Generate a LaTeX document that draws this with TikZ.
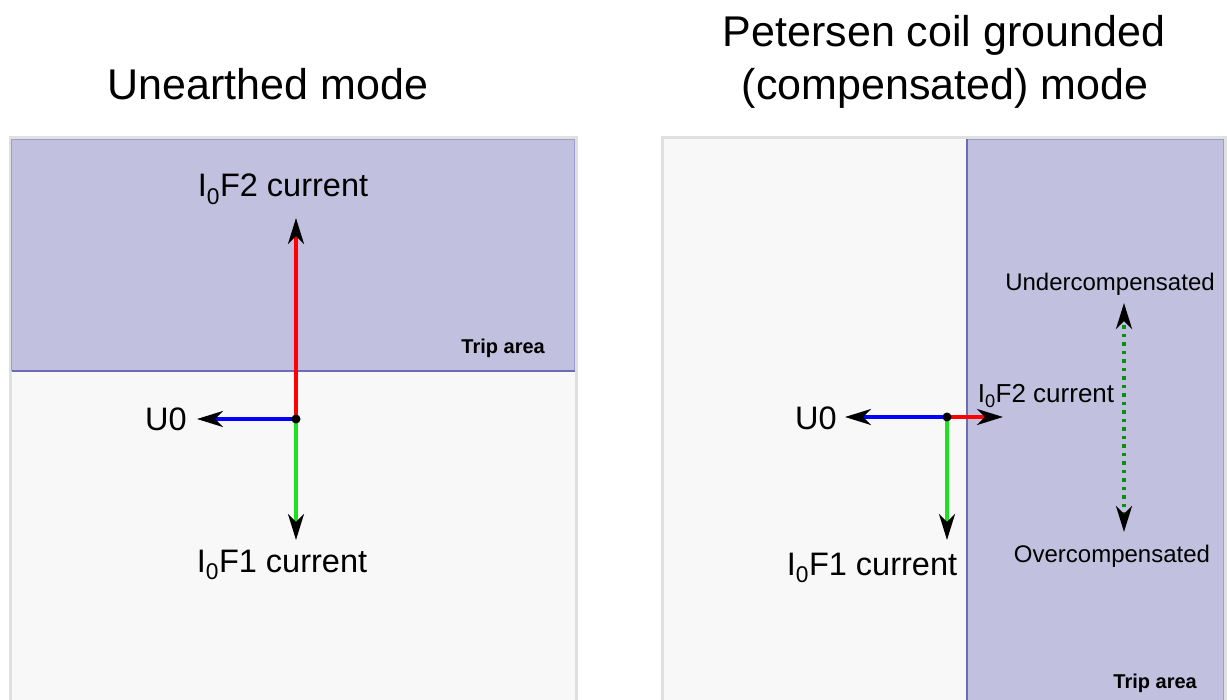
\documentclass[tikz,border=0pt]{standalone}
\usepackage{fontspec}
\setmainfont{Liberation Sans}
\usetikzlibrary{arrows.meta}
\definecolor{tripfill}{HTML}{C1C1DF}
\definecolor{tripedge}{HTML}{9C9CD0}
\definecolor{tripline}{HTML}{6C6CB6}
\definecolor{panelfill}{HTML}{F8F8F8}
\definecolor{panelline}{HTML}{E0E0E0}
\definecolor{vred}{HTML}{FF0000}
\definecolor{vblue}{HTML}{0000FF}
\definecolor{vgreen}{HTML}{1EE01E}
\definecolor{dgreen}{HTML}{0B8F0B}

\begin{document}
\begin{tikzpicture}[x=1pt,y=-1pt,
  vtip/.tip={Stealth[length=26pt,width=16pt,inset=8pt,color=black]},
  vec/.style={line width=3.2pt,-vtip},
  comprange/.style={dgreen,line width=3.5pt,dash pattern=on 3.5pt off 5pt,vtip-vtip},
  panelbox/.style={draw=panelline,line width=3pt,fill=panelfill},
  tripbox/.style={fill=tripfill,draw=tripedge,line width=1pt},
  titletext/.style={inner sep=0pt,anchor=base,font=\fontsize{43}{50}\selectfont},
  lbl/.style={inner sep=0pt,anchor=base,font=\fontsize{32.5}{38}\selectfont},
  lblsm/.style={inner sep=0pt,anchor=base,font=\fontsize{26}{30}\selectfont},
  notetext/.style={inner sep=0pt,anchor=base,font=\fontsize{24}{28}\selectfont},
  triplbl/.style={inner sep=0pt,anchor=base east,font=\fontsize{20}{22}\selectfont\bfseries},
  origindot/.style={circle,fill=black,inner sep=0pt,minimum size=9pt}]
\useasboundingbox (0,0) rectangle (1227,700);
\clip (0,0) rectangle (1227,700);

% ---- unearthed network ----
\node[titletext] (t1) at (268,100) {Unearthed mode};
\draw[panelbox] (10,138) rectangle (576,712);
\draw[tripbox] (11.5,139.5) rectangle (574.5,371);
\draw[tripline,line width=1.5pt] (11.5,371) -- (574.5,371);
\node[triplbl] (ta1) at (545,354) {Trip area};

\coordinate (o1) at (296,419);
\coordinate (f2a) at (296,218);
\coordinate (u0a) at (197,419);
\coordinate (f1a) at (296,540);
\draw[vec,vred] (o1) -- (f2a);
\draw[vec,vblue] (o1) -- (u0a);
\draw[vec,vgreen] (o1) -- (f1a);
\node[origindot] (d1) at (o1) {};
\node[lbl] (lf2a) at (283,197) {I\textsubscript{0}F2 current};
\node[lbl] (lu0a) at (166,431) {U0};
\node[lbl] (lf1a) at (282,572) {I\textsubscript{0}F1 current};

% ---- compensated network ----
\node[titletext] (t2a) at (944,47) {Petersen coil grounded};
\node[titletext] (t2b) at (945,100) {(compensated) mode};
\draw[panelbox] (662,138) rectangle (1225,712);
\draw[tripbox] (967,139.5) rectangle (1223.5,712);
\draw[tripline,line width=1.5pt] (967,139.5) -- (967,712);
\node[triplbl] (ta2) at (1197,688) {Trip area};

\coordinate (o2) at (947,417);
\coordinate (u0b) at (845,417);
\coordinate (f2b) at (1003,417);
\coordinate (f1b) at (947,540);
\draw[vec,vblue] (o2) -- (u0b);
\draw[vec,vred] (o2) -- (f2b);
\draw[vec,vgreen] (o2) -- (f1b);
\node[origindot] (d2) at (o2) {};
\node[lbl] (lu0b) at (816,430) {U0};
\node[lblsm] (lf2b) at (1046,403) {I\textsubscript{0}F2 current};
\node[lbl] (lf1b) at (872,575) {I\textsubscript{0}F1 current};

\coordinate (rt) at (1124,303);
\coordinate (rb) at (1124,532);
\draw[comprange] (rb) -- (rt);
\node[notetext] (under) at (1110,291) {Undercompensated};
\node[notetext] (over) at (1112,562) {Overcompensated};
\end{tikzpicture}
\end{document}
